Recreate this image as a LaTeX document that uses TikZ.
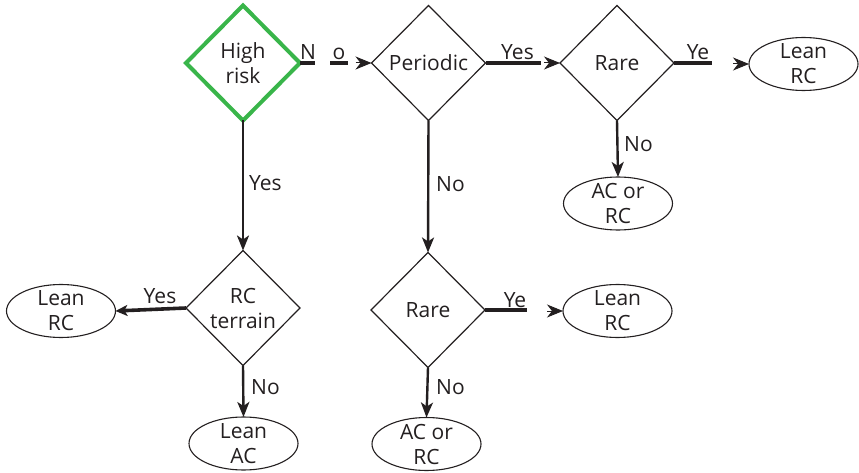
\documentclass[tikz,border=0pt]{standalone}
\usepackage{fontspec}
\setmainfont{Open Sans}
\usetikzlibrary{shapes.geometric,arrows.meta,calc}
\definecolor{txtc}{RGB}{35,31,32}
\definecolor{hrgreen}{RGB}{57,181,74}
\begin{document}
\begin{tikzpicture}[x=1pt,y=-1pt,
  every node/.style={text=txtc,font=\fontsize{21}{25}\selectfont},
  dia/.style={diamond,draw=txtc,line width=1.2pt,minimum width=114pt,minimum height=115pt,inner sep=0pt,outer sep=0pt},
  endbox/.style={ellipse,draw=txtc,line width=1.1pt,minimum width=109pt,minimum height=53pt,inner sep=0pt,outer sep=0pt},
  inner/.style={align=center,inner sep=0pt},
  seg/.style={draw=txtc,line width=3.6pt},
  vline/.style={draw=txtc,line width=2.4pt,-{Stealth[length=15pt,width=12pt,inset=4pt]}},
  hline/.style={draw=txtc,line width=3.6pt,-{Stealth[length=12pt,width=11pt,inset=3pt]}},
  tiponly/.style={draw=txtc,line width=1pt,-{Stealth[length=16pt,width=13pt,inset=5pt]}},
  lab/.style={inner sep=0pt}
]
\useasboundingbox (0,0) rectangle (859,473);

% decision nodes
\node[dia,draw=hrgreen,line width=4pt,label={[inner]center:{High\\risk}}] (hr) at (243,63) {};
\node[dia,label={[inner]center:Periodic}] (per) at (428.5,63) {};
\node[dia,label={[inner]center:Rare}] (rare1) at (617,63) {};
\node[dia,label={[inner]center:{RC\\terrain}}] (rct) at (243,308) {};
\node[dia,label={[inner]center:Rare}] (rare2) at (428,310) {};

% end nodes
\node[endbox,label={[inner]center:{Lean\\RC}}] (lrc1) at (803.5,64) {};
\node[endbox,label={[inner]center:{AC or\\RC}}] (acrc1) at (618,203.5) {};
\node[endbox,label={[inner]center:{Lean\\RC}}] (lrc2) at (61,311) {};
\node[endbox,label={[inner]center:{Lean\\RC}}] (lrc3) at (617.5,311) {};
\node[endbox,label={[inner]center:{Lean\\AC}}] (lac) at (243.5,443.5) {};
\node[endbox,label={[inner]center:{AC or\\RC}}] (acrc2) at (426.5,444) {};

% High risk -> Periodic (N o)
\draw[seg] (hr.east) -- ++(15,0) ++(15,0) -- ++(18,0);
\node[lab,anchor=base] at ($(hr.east)+(8,-3)$) {N};
\node[lab,anchor=base] at ($(hr.east)+(39,-3)$) {o};
\draw[tiponly] ($(per.west)+(-16,0)$) -- (per.west);

% Periodic -> Rare (Yes)
\draw[seg] (per.east) -- ++(55,0);
\node[lab,anchor=base] at ($(per.east)+(32,-3)$) {Yes};
\draw[tiponly] ($(rare1.west)+(-16,0)$) -- (rare1.west);

% Rare -> Lean RC (Ye)
\draw[seg] (rare1.east) -- ++(38,0);
\node[lab,anchor=base] at ($(rare1.east)+(24,-3)$) {Ye};
\draw[tiponly] ($(lrc1.west)+(-16,0)$) -- (lrc1.west);

% Rare (middle) -> Lean RC (Ye)
\draw[seg] (rare2.east) -- ++(42,0);
\node[lab,anchor=base] at ($(rare2.east)+(30,-3)$) {Ye};
\draw[tiponly] ($(lrc3.west)+(-16,0)$) -- (lrc3.west);

% RC terrain -> Lean RC (Yes)
\draw[hline] (rct.west) -- (lrc2.east);
\node[lab,anchor=base] at ($(rct.west)+(-26,-5)$) {Yes};

% vertical connectors
\draw[vline] (hr.south) -- (rct.north);
\node[lab,anchor=west] at (249,183) {Yes};
\draw[vline] (per.south) -- (rare2.north);
\node[lab,anchor=west] at (436,184) {No};
\draw[vline] (rare1.south) -- (acrc1.north);
\node[lab,anchor=west] at (624,144) {No};
\draw[vline] (rct.south) -- (lac.north);
\node[lab,anchor=west] at (251,387) {No};
\draw[vline] (rare2.south) -- (acrc2.north);
\node[lab,anchor=west] at (436,387) {No};
\end{tikzpicture}
\end{document}
